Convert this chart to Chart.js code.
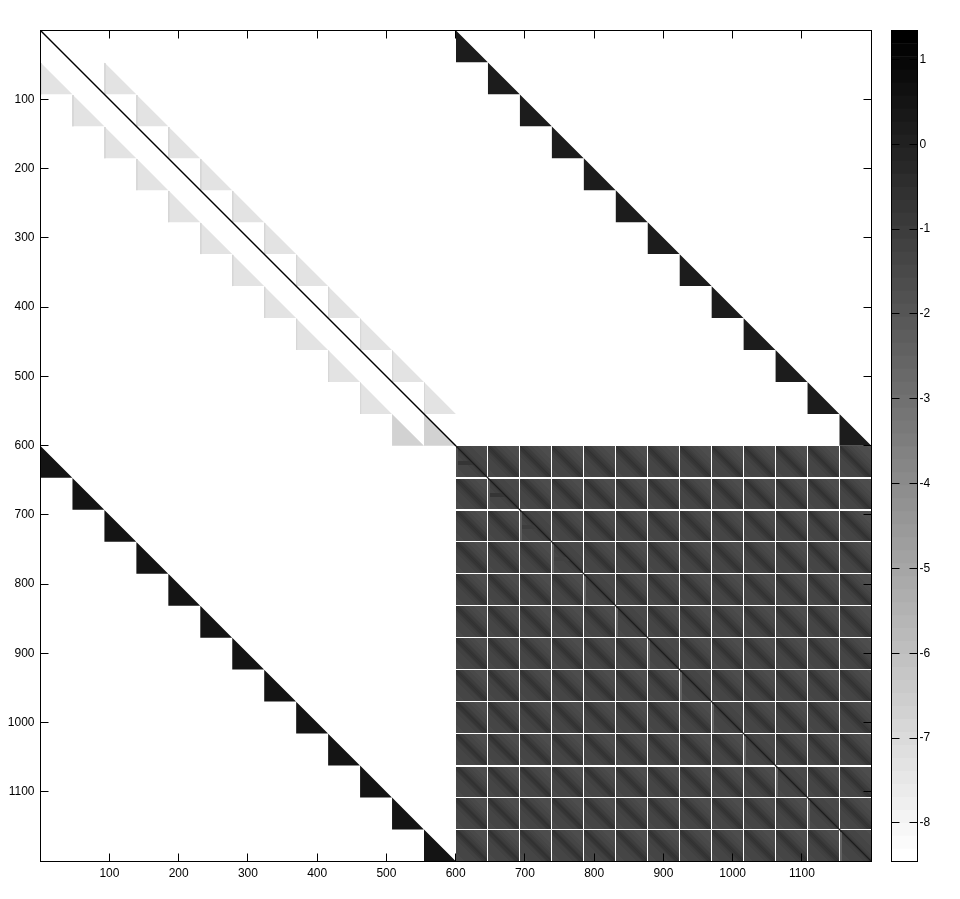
<!DOCTYPE html>
<html>
<head>
<meta charset="utf-8">
<style>
html,body{margin:0;padding:0;background:#fff;width:960px;height:899px;overflow:hidden}
#main{position:absolute;left:0;top:0}
#bar{position:absolute;left:880px;top:0}
</style>
<script src="https://cdn.jsdelivr.net/npm/chart.js@4"></script>
</head>
<body>
<canvas id="main" width="960" height="899"></canvas>
<canvas id="bar" width="80" height="899"></canvas>
<script>
// ---- tick labels
const axisTicks = [100,200,300,400,500,600,700,800,900,1000,1100];
const colorTicks = [-8,-7,-6,-5,-4,-3,-2,-1,0,1];
// ---- colour scale (log10 magnitude), 64 grey levels
const colorMax = 1.342, colorMin = -8.456;
const grayLevels = [0,4,8,12,16,20,24,28,32,36,40,45,49,53,57,61,65,69,73,77,81,85,89,93,97,101,105,109,113,117,121,125,130,134,138,142,146,150,154,158,162,166,170,174,178,182,186,190,194,198,202,206,210,215,219,223,227,231,235,239,243,247,251,255];
// ---- block layout of the matrix (start of each block)
const blockStarts = [0.5,46.65,92.8,138.95,185.1,231.25,277.4,323.55,369.7,415.85,462,508.15,554.3];
const secondHalf = 600;
const blockSize = 46;
// ---- triangle values
const upperRightValue = 0.15;
const lowerLeftValue = 0.5;
const lightTriangles = [[1,0],[1,2],[2,1],[2,3],[3,2],[3,4],[4,3],[4,5],[5,4],[5,6],[6,5],[6,7],[7,6],[7,8],[8,7],[8,9],[9,8],[9,10],[10,9],[10,11],[11,10],[11,12]];
const lightValue = -7.35;
const lightEdgeValue = -6.9;
const grayTriangles = [[12,11],[12,12]];
const grayValue = -6.7;
// ---- lower-right quadrant: value by diagonal offset (col-row = -44,-42,...,44)
const offBlockProfile = [-1.45,-1.45,-1.45,-1.45,-1.45,-1.45,-1.4,-1.4,-1.4,-1.4,-1.35,-1.35,-1.35,-1.3,-1.3,-1.25,-1.2,-1.15,-1.05,-0.95,-0.8,-0.65,-0.55,-0.7,-0.85,-1.0,-1.1,-1.2,-1.3,-1.35,-1.4,-1.45,-1.5,-1.55,-1.55,-1.6,-1.6,-1.65,-1.65,-1.7,-1.7,-1.7,-1.75,-1.75,-1.75];
const onBlockProfile = [-1.5,-1.5,-1.5,-1.5,-1.45,-1.45,-1.45,-1.45,-1.4,-1.4,-1.4,-1.4,-1.35,-1.35,-1.3,-1.3,-1.3,-1.25,-1.25,-1.2,-1.1,-0.85,-0.4,-0.85,-1.1,-1.2,-1.25,-1.3,-1.3,-1.35,-1.35,-1.4,-1.4,-1.45,-1.45,-1.5,-1.5,-1.5,-1.55,-1.55,-1.55,-1.6,-1.6,-1.6,-1.6];
// darker horizontal band left of the diagonal in the first diagonal blocks
const bandValues = [-0.7,-0.7,-1.0,-1.2];
const bandLocalRows = [22,27];
// lighter first columns in diagonal blocks, per block
const stripeValues = [-1.6,-2.0,-2.3,-2.4,-2.4,-2.4,-2.4,-2.4,-2.4,-2.4,-2.4,-2.4,-2.4];
const stripeWidth = 3;
// white separators inside the lower-right quadrant
const colRules = [646.0,692.2,738.4,784.6,830.8,877.0,923.2,969.5,1015.7,1061.9,1108.1,1154.3];
const rowRules = [646.0,647.45,692.2,693.6,738.4,784.6,830.8,877.0,923.2,969.5,1015.7,1061.9,1063.3,1108.1,1154.3];
const diagonalEnds = [0.5,600.5,1200.5];
// one cell per screen pixel of the image
const unitsPerCell = 1/0.6925;

function levelOf(v){
  let i = Math.floor((colorMax - v)/(colorMax - colorMin)*64);
  return Math.max(0,Math.min(63,i));
}
function grayOf(v){ const g = grayLevels[levelOf(v)]; return `rgb(${g},${g},${g})`; }
function triangle(c,r,color){
  return {type:'scatter',showLine:true,pointRadius:0,borderWidth:0,borderColor:color,backgroundColor:color,fill:'shape',
    data:[{x:c,y:r},{x:c,y:r+blockSize},{x:c+blockSize,y:r+blockSize},{x:c,y:r}],order:5};
}
function blockOf(local){ let k=0; while(k<12 && local>=blockStarts[k+1]) k++; return k; }

const datasets = [];
const buckets = grayLevels.map(()=>[]);
// sample positions along the second half of each axis
const xs=[],ys=[];
for(let n=0;;n++){ const u=0.5+n*unitsPerCell; if(u>1200.5) break; if(u>=600.5){ xs.push(u); ys.push(u);} }
const usableX = xs.filter(u=>!colRules.some(r=>Math.abs(u-r)<0.72));
const usableY = ys.filter(u=>!rowRules.some(r=>Math.abs(u-r)<0.72));
// outer loop on x: each bucket stays sorted by x, as parsing:false requires
usableX.forEach(xu=>{
  const ci=blockOf(xu-600), col=xu-600-blockStarts[ci];
  usableY.forEach(yu=>{
    const ri=blockOf(yu-600), row=yu-600-blockStarts[ri];
    const same=ri===ci, prof=same?onBlockProfile:offBlockProfile;
    let idx=Math.round((col-row)/2)+22; idx=Math.max(0,Math.min(44,idx));
    let v=prof[idx];
    if(same && ci<bandValues.length && row>=bandLocalRows[0] && row<bandLocalRows[1] && col<row) v=bandValues[ci];
    if(same && col<stripeWidth && row>3) v=stripeValues[ci];
    buckets[levelOf(v)].push({x:xu,y:yu});
  });
});
buckets.forEach((pts,i)=>{
  if(!pts.length) return;
  const g=grayLevels[i], c=`rgb(${g},${g},${g})`;
  datasets.push({type:'scatter',data:pts,parsing:false,pointStyle:'rect',pointRadius:Math.SQRT1_2,pointBorderWidth:0,
    pointBackgroundColor:c,pointBorderColor:c,showLine:false,order:10});
});
// triangles
blockStarts.forEach(s=>{
  datasets.push(triangle(secondHalf+s,s,grayOf(upperRightValue)));
  datasets.push(triangle(s,secondHalf+s,grayOf(lowerLeftValue)));
});
lightTriangles.forEach(([r,c])=>datasets.push(triangle(blockStarts[c],blockStarts[r],grayOf(lightValue))));
grayTriangles.forEach(([r,c])=>datasets.push(triangle(blockStarts[c],blockStarts[r],grayOf(grayValue))));
// slightly darker left edge of the light triangles
const edges=[];
lightTriangles.forEach(([r,c])=>{edges.push({x:blockStarts[c]+0.7,y:blockStarts[r]+1},{x:blockStarts[c]+0.7,y:blockStarts[r]+blockSize},{x:null,y:null});});
datasets.push({type:'scatter',showLine:true,pointRadius:0,borderColor:grayOf(lightEdgeValue),borderWidth:1,data:edges,spanGaps:false,fill:false,order:4});
// main diagonal
datasets.push({type:'scatter',showLine:true,pointRadius:0,borderColor:'#000',borderWidth:1.4,fill:false,order:1,
  data:[{x:diagonalEnds[0],y:diagonalEnds[0]},{x:diagonalEnds[1],y:diagonalEnds[1]}]});
datasets.push({type:'scatter',showLine:true,pointRadius:0,borderColor:'#1c1c1c',borderWidth:1.1,fill:false,order:1,
  data:[{x:diagonalEnds[1],y:diagonalEnds[1]},{x:diagonalEnds[2],y:diagonalEnds[2]}]});

const FONT={family:'"Liberation Sans",Arial,sans-serif',size:12};

const boxAndTicks={id:'boxAndTicks',afterDraw(chart){
  const {ctx,chartArea:a,scales}=chart;
  ctx.save();ctx.strokeStyle='#000';ctx.lineWidth=1;
  ctx.beginPath();
  const len=8;
  if(scales.x && scales.x.options.display!==false){
    scales.x.ticks.forEach(t=>{const p=Math.floor(scales.x.getPixelForValue(t.value))+.5;
      ctx.moveTo(p,a.top);ctx.lineTo(p,a.top+len);ctx.moveTo(p,a.bottom);ctx.lineTo(p,a.bottom-len);});
  }
  scales.y.ticks.forEach(t=>{const p=Math.floor(scales.y.getPixelForValue(t.value))+.5;
    ctx.moveTo(a.left,p);ctx.lineTo(a.left+len,p);ctx.moveTo(a.right,p);ctx.lineTo(a.right-len,p);});
  ctx.stroke();
  ctx.strokeRect(a.left,a.top,a.right-a.left,a.bottom-a.top);
  ctx.restore();
}};

new Chart(document.getElementById('main'),{
  data:{datasets},
  plugins:[boxAndTicks],
  options:{
    responsive:false,animation:false,events:[],
    layout:{padding:{left:0,top:30.5,right:88.5,bottom:0}},
    plugins:{legend:{display:false},tooltip:{enabled:false}},
    scales:{
      x:{type:'linear',position:'bottom',min:0.5,max:1200.5,
        grid:{display:false,drawTicks:false},border:{display:false},
        afterBuildTicks:s=>{s.ticks=axisTicks.map(v=>({value:v}));},
        afterFit:s=>{s.height=37.5;},
        ticks:{autoSkip:false,maxRotation:0,padding:5,color:'#000',font:FONT,callback:v=>String(v)}},
      y:{type:'linear',reverse:true,min:0.5,max:1200.5,
        grid:{display:false,drawTicks:false},border:{display:false},
        afterBuildTicks:s=>{s.ticks=axisTicks.map(v=>({value:v}));},
        afterFit:s=>{s.width=40.5;},
        ticks:{autoSkip:false,padding:6,color:'#000',font:FONT,callback:v=>String(v)}}
    }
  }
});

// colour bar
const barSets = grayLevels.map((g,i)=>{
  const step=(colorMax-colorMin)/64;
  return {type:'bar',label:'L'+i,data:[[colorMax-(i+1)*step,colorMax-i*step]],backgroundColor:`rgb(${g},${g},${g})`,borderWidth:0,barPercentage:1,categoryPercentage:1};
});
new Chart(document.getElementById('bar'),{
  data:{labels:[''],datasets:barSets},
  plugins:[boxAndTicks],
  options:{
    responsive:false,animation:false,events:[],
    layout:{padding:{left:11.5,top:30.5,right:0,bottom:37.5}},
    plugins:{legend:{display:false},tooltip:{enabled:false}},
    scales:{
      x:{display:false,stacked:true,offset:true,grid:{display:false}},
      y:{position:'right',min:colorMin,max:colorMax,
        grid:{display:false,drawTicks:false},border:{display:false},
        afterBuildTicks:s=>{s.ticks=colorTicks.map(v=>({value:v}));},
        afterFit:s=>{s.width=42.5;},
        ticks:{autoSkip:false,padding:2,color:'#000',font:FONT,callback:v=>String(v)}}
    }
  }
});
</script>
</body>
</html>
